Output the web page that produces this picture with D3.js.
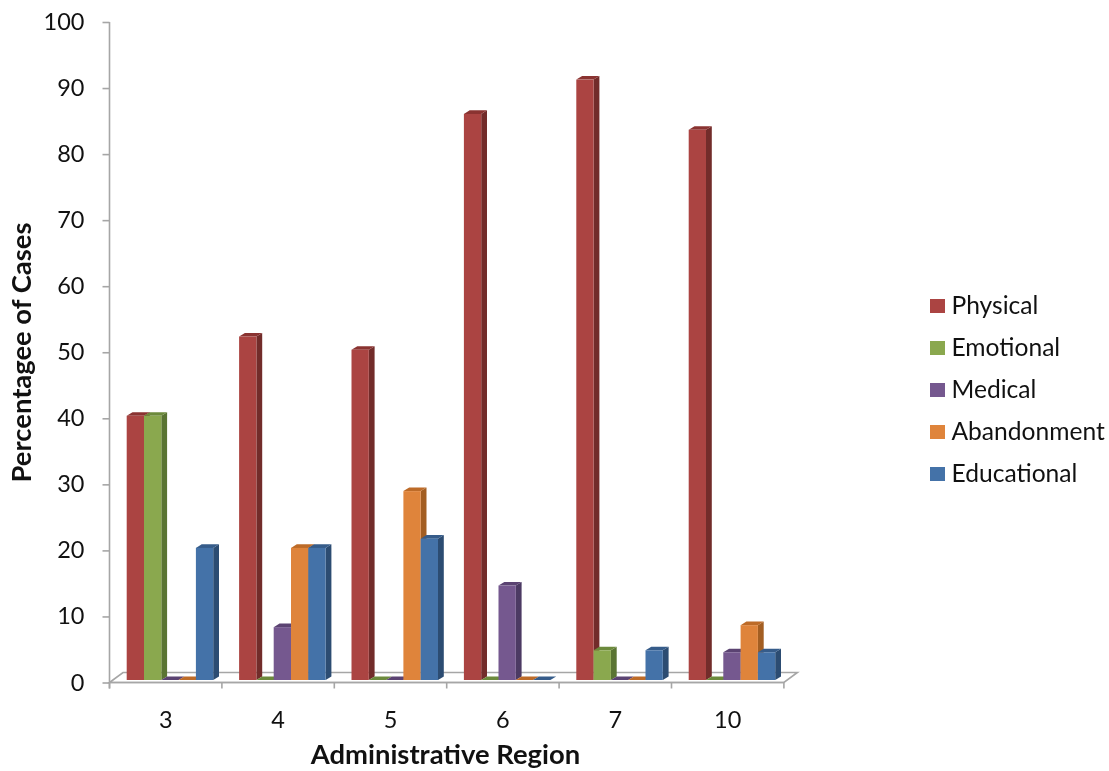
<!DOCTYPE html>
<html><head><meta charset="utf-8">
<script src="https://cdn.jsdelivr.net/npm/d3@7/dist/d3.min.js"></script>
<style>html,body{margin:0;padding:0;background:#fff}svg{display:block;filter:blur(0.4px)}text{font-family:Lato,"Open Sans",sans-serif;fill:#111}</style>
</head><body><script>
const regions=["3","4","5","6","7","10"];
const seriesNames=["Physical","Emotional","Medical","Abandonment","Educational"];
const physical=[40,52,50,85.7,90.9,83.3];
const emotional=[40,0,0,0,4.5,0];
const medical=[0,8,0,14.3,0,4.2];
const abandonment=[0,20,28.6,0,0,8.3];
const educational=[20,20,21.4,0,4.5,4.2];
const yTicks=[0,10,20,30,40,50,60,70,80,90,100];
const faceColors=["#AB4442","#8AA84E","#75588F","#DF843B","#4472A8"];
const sideColors=["#722C2A","#5A7433","#4C3A63","#A35E22","#2C4C72"];
const topColors=["#8A3331","#6C8A3C","#5B4372","#BD6B28","#365C8A"];
const values=[physical,emotional,medical,abandonment,educational];

const W=1109,H=771,depthX=5.8,depthY=3.6,baseLift=2.5;
const svg=d3.select("body").append("svg").attr("width",W).attr("height",H);
const y=d3.scaleLinear().domain([0,100]).range([682.5,22]);
const x=d3.scaleBand().domain(regions).range([109.5,783.9]);
const inner=d3.scaleBand().domain(seriesNames).range([17.2,103.7]);
const axisColor="#a6a6a6";

// floor
const x0=109.5,x1=783.9,yf=y(0),dx=13.5,dy=10;
svg.append("path").attr("fill","#fff").attr("stroke",axisColor).attr("stroke-width",1.6)
  .attr("d",`M${x0},${yf}L${x0+dx},${yf-dy}L${x1+dx},${yf-dy}L${x1},${yf}Z`);

// axes
const ay=svg.append("g").attr("transform",`translate(${x0},0)`)
  .call(d3.axisLeft(y).tickValues(yTicks).tickSize(7).tickPadding(18));
const ax=svg.append("g").attr("transform",`translate(0,${yf})`)
  .call(d3.axisBottom(x).tickSize(6).tickPadding(23));
// tick marks on region boundaries
ax.selectAll(".tick line").remove();
ax.selectAll(".bound").data(regions.concat(["end"])).join("line").attr("class","bound")
  .attr("x1",(d,i)=>i<regions.length?x(d):x1).attr("x2",(d,i)=>i<regions.length?x(d):x1)
  .attr("y1",0).attr("y2",6);
[ay,ax].forEach(a=>{
  a.selectAll("path.domain").attr("stroke",axisColor).attr("stroke-width",1.6);
  a.selectAll("line").attr("stroke",axisColor).attr("stroke-width",1.6);
  a.selectAll("text").style("font-size","23.5px").attr("fill","#111");
});
ax.select("path.domain").attr("d",`M${x0},0H${x1}`);
ay.select("path.domain").attr("d",`M0,${y(100)}V${yf+6}`);

// bars
regions.forEach((r,ri)=>{
  seriesNames.forEach((s,si)=>{
    const v=values[si][ri];
    const l=x(r)+inner(s), w=inner.bandwidth(), rr=l+w;
    const b=y(0)-baseLift, t=y(v)-baseLift;
    const g=svg.append("g");
    g.append("path").attr("fill",sideColors[si])
      .attr("d",`M${rr},${t}L${rr+depthX},${t-depthY}L${rr+depthX},${b-depthY}L${rr},${b}Z`);
    g.append("path").attr("fill",topColors[si])
      .attr("d",`M${l},${t}L${l+depthX},${t-depthY}L${rr+depthX},${t-depthY}L${rr},${t}Z`);
    if(v>0) g.append("rect").attr("fill",faceColors[si]).attr("x",l).attr("y",t).attr("width",w).attr("height",b-t);
  });
});

// titles
svg.append("text").attr("x",445.5).attr("y",764).attr("text-anchor","middle")
  .style("font-size","27.4px").style("font-weight",700).text("Administrative Region");
svg.append("text").attr("transform","translate(31,352.5) rotate(-90)").attr("text-anchor","middle")
  .style("font-size","27.4px").style("font-weight",700).text("Percentagee of Cases");

// legend
const ly=d3.scalePoint().domain(seriesNames).range([306,474]);
const lg=svg.selectAll(".lg").data(seriesNames).join("g").attr("class","lg")
  .attr("transform",d=>`translate(930,${ly(d)})`);
lg.append("rect").attr("x",0).attr("y",-7).attr("width",15).attr("height",14).attr("fill",(d,i)=>faceColors[i]);
lg.append("text").attr("x",21.5).attr("y",8).style("font-size","24.6px").text(d=>d);
</script></body></html>
